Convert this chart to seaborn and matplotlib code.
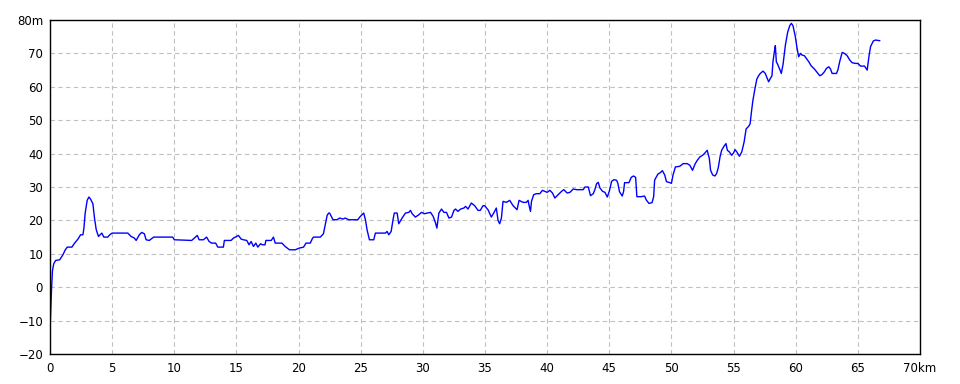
import matplotlib
matplotlib.use("Agg")
import matplotlib.pyplot as plt
import seaborn as sns
import pandas as pd

# Elevation profile data (distance in km, elevation in m)
distance_km = [
    0.0, 0.05, 0.08, 0.13, 0.2, 0.3, 0.45, 0.78, 1.04, 1.23,
    1.39, 1.76, 1.98, 2.25, 2.46, 2.65, 2.73, 2.83, 2.99, 3.13,
    3.26, 3.45, 3.58, 3.72, 3.9, 4.04, 4.17, 4.33, 4.65, 4.81,
    5.0, 6.26, 6.52, 6.79, 6.93, 7.19, 7.38, 7.59, 7.73, 7.99,
    8.34, 9.87, 10.0, 11.4, 11.7, 11.85, 12.0, 12.34, 12.6, 12.8,
    13.0, 13.33, 13.5, 13.95, 14.03, 14.57, 14.76, 15.16, 15.38, 15.56,
    15.83, 16.02, 16.18, 16.37, 16.56, 16.72, 16.94, 17.1, 17.3, 17.37,
    17.8, 17.98, 18.12, 18.66, 18.92, 19.27, 19.73, 20.05, 20.4, 20.6,
    20.94, 21.13, 21.2, 21.75, 22.0, 22.15, 22.3, 22.42, 22.5, 22.77,
    23.1, 23.3, 23.58, 23.76, 24.03, 24.76, 24.97, 25.24, 25.38, 25.51,
    25.7, 26.05, 26.18, 26.99, 27.12, 27.26, 27.45, 27.6, 27.7, 27.93,
    28.06, 28.33, 28.6, 28.87, 29.0, 29.14, 29.4, 29.68, 29.89, 30.13,
    30.35, 30.62, 30.83, 31.02, 31.13, 31.29, 31.5, 31.69, 31.9, 32.1,
    32.31, 32.5, 32.63, 32.82, 33.04, 33.3, 33.44, 33.63, 33.9, 34.17,
    34.44, 34.62, 34.84, 34.97, 35.24, 35.51, 35.73, 35.91, 36.05, 36.18,
    36.32, 36.45, 36.72, 36.99, 37.26, 37.58, 37.74, 38.06, 38.33, 38.47,
    38.55, 38.66, 38.74, 38.92, 39.14, 39.41, 39.62, 39.81, 40.0, 40.22,
    40.43, 40.62, 40.89, 41.16, 41.34, 41.61, 41.83, 42.1, 42.37, 42.9,
    43.04, 43.31, 43.49, 43.71, 43.84, 43.98, 44.11, 44.25, 44.46, 44.65,
    44.84, 45.0, 45.19, 45.38, 45.59, 45.69, 45.82, 46.04, 46.15, 46.23,
    46.58, 46.77, 46.95, 47.12, 47.22, 47.57, 47.84, 47.98, 48.19, 48.44,
    48.57, 48.65, 48.92, 49.11, 49.27, 49.46, 49.6, 49.87, 50.0, 50.13,
    50.32, 50.67, 50.94, 51.27, 51.48, 51.7, 51.89, 52.08, 52.29, 52.51,
    52.7, 52.88, 53.05, 53.15, 53.32, 53.5, 53.64, 53.77, 53.91, 54.04,
    54.23, 54.39, 54.5, 54.66, 54.85, 55.0, 55.12, 55.26, 55.47, 55.66,
    55.85, 56.01, 56.2, 56.33, 56.42, 56.55, 56.69, 56.87, 57.01, 57.15,
    57.37, 57.55, 57.69, 57.82, 57.96, 58.09, 58.17, 58.28, 58.36, 58.44,
    58.55, 58.71, 58.84, 58.98, 59.17, 59.35, 59.52, 59.65, 59.78, 59.97,
    60.11, 60.24, 60.38, 60.51, 60.7, 60.86, 61.05, 61.24, 61.51, 61.72,
    61.94, 62.12, 62.31, 62.47, 62.66, 62.8, 62.93, 63.28, 63.39, 63.55,
    63.74, 63.92, 64.14, 64.35, 64.54, 64.81, 65.0, 65.22, 65.54, 65.75,
    65.89, 66.02, 66.24, 66.42, 66.77,
]
elevation_m = [
    -13, -8.5, -5, 0, 5, 7, 8, 8.2, 9.7, 11.2,
    12, 12, 13.2, 14.4, 15.7, 15.7, 17.7, 22.2, 26, 27,
    26.4, 25, 20.7, 17.2, 15.2, 15.7, 16.2, 15, 15, 15.7,
    16.2, 16.2, 15.2, 14.7, 14, 15.7, 16.4, 16, 14.2, 14,
    15, 15, 14.2, 14, 15, 15.5, 14.2, 14.2, 15, 13.7,
    13.2, 13.2, 12, 12, 14, 14, 14.7, 15.5, 14.4, 14.2,
    14, 12.7, 13.7, 12.2, 13.2, 12, 13, 12.7, 12.7, 14,
    14, 15, 13.2, 13.2, 12.2, 11.2, 11.2, 11.7, 12, 13.2,
    13.2, 14.7, 15, 15, 16, 18.7, 21.5, 22.2, 22.2, 20.2,
    20.2, 20.7, 20.4, 20.7, 20.2, 20.2, 21.2, 22.2, 20.2, 17.2,
    14.2, 14.2, 16.2, 16.2, 16.7, 15.7, 16.7, 20.2, 22.2, 22.2,
    19, 20.7, 22.2, 22.4, 23, 22, 21, 21.7, 22.4, 22,
    22.2, 22.4, 21.2, 19.2, 17.7, 22.2, 23.4, 22.4, 22.4, 20.7,
    21, 23, 23.4, 22.7, 23.4, 23.7, 24.2, 23.4, 25.2, 24.4,
    23, 23, 24.4, 24.4, 23.2, 21, 22.4, 23.7, 20, 19,
    20.7, 25.7, 25.4, 26, 24.4, 23.2, 26, 25.4, 25.4, 26,
    24.4, 22.7, 25.7, 27.7, 28, 28, 29, 28.7, 28.4, 29,
    28.2, 26.7, 27.7, 28.7, 29.2, 28.2, 28.4, 29.4, 29.2, 29.2,
    30, 30, 27.4, 28, 29.2, 31, 31.4, 29.7, 28.7, 28.4,
    27, 28.7, 31.7, 32.2, 32, 31.1, 28.6, 27.3, 28.6, 31.3,
    31.3, 32.9, 33.3, 32.9, 27.1, 27.1, 27.3, 26.1, 25.1, 25.3,
    27.1, 32.1, 33.9, 34.3, 34.9, 33.6, 31.6, 31.3, 31.1, 33.6,
    36, 36.2, 37, 37, 36.5, 35, 36.8, 38, 39, 39.5,
    40.2, 41, 38.5, 35, 33.6, 33.3, 34.1, 35.8, 39, 41,
    42.2, 43, 41, 40.5, 39.5, 40.2, 41.2, 40.5, 39.2, 40.5,
    43.5, 47.4, 48.1, 48.9, 51.9, 55.8, 58.8, 62.3, 63.3, 64,
    64.7, 64, 62.7, 61.5, 62.5, 63.3, 67.5, 70.5, 72.3, 67.5,
    66.7, 65.3, 64, 66.7, 72.5, 76.3, 78.3, 79, 78.3, 75,
    71.5, 69, 70, 69.5, 69.3, 68.5, 67.5, 66.3, 65.3, 64.3,
    63.3, 63.7, 64.5, 65.5, 66, 65.3, 64, 64, 65, 67.7,
    70.3, 70, 69.3, 68, 67.2, 67, 67, 66.2, 66.2, 65,
    69, 72, 73.7, 74, 73.8,
]

x_ticks = [0, 5, 10, 15, 20, 25, 30, 35, 40, 45, 50, 55, 60, 65, 70]
x_tick_labels = ["0", "5", "10", "15", "20", "25", "30", "35", "40", "45",
                 "50", "55", "60", "65", "70km"]
y_ticks = [-20, -10, 0, 10, 20, 30, 40, 50, 60, 70, 80]
y_tick_labels = ["\u221220", "\u221210", "0", "10", "20", "30", "40", "50",
                 "60", "70", "80m"]

assert len(distance_km) == len(elevation_m)

df = pd.DataFrame({"distance": distance_km, "elevation": elevation_m})

sns.set_style("white")
plt.rcParams["font.family"] = ["DejaVu Sans"]

fig = plt.figure(figsize=(9.6, 3.84), dpi=100)
ax = fig.add_axes([50 / 960, 30 / 384, 870 / 960, 334 / 384])

sns.lineplot(data=df, x="distance", y="elevation", ax=ax, color="#0000FF",
             linewidth=1.0, estimator=None, sort=False)

ax.set_xlim(0, 70)
ax.set_ylim(-20, 80)
ax.set_xticks(x_ticks)
ax.set_xticklabels(x_tick_labels)
ax.set_yticks(y_ticks)
ax.set_yticklabels(y_tick_labels)
ax.set_xlabel("")
ax.set_ylabel("")

ax.grid(True, color="#c0c0c0", linestyle=(0, (4, 3)), linewidth=0.8)
ax.set_axisbelow(True)
for s in ax.spines.values():
    s.set_color("black")
    s.set_linewidth(1.0)
    s.set_visible(True)

ax.tick_params(axis="both", length=0, labelsize=8.5, colors="black")
ax.tick_params(axis="y", pad=5)
ax.tick_params(axis="x", pad=6)

fig.savefig("out.png", dpi=100)
